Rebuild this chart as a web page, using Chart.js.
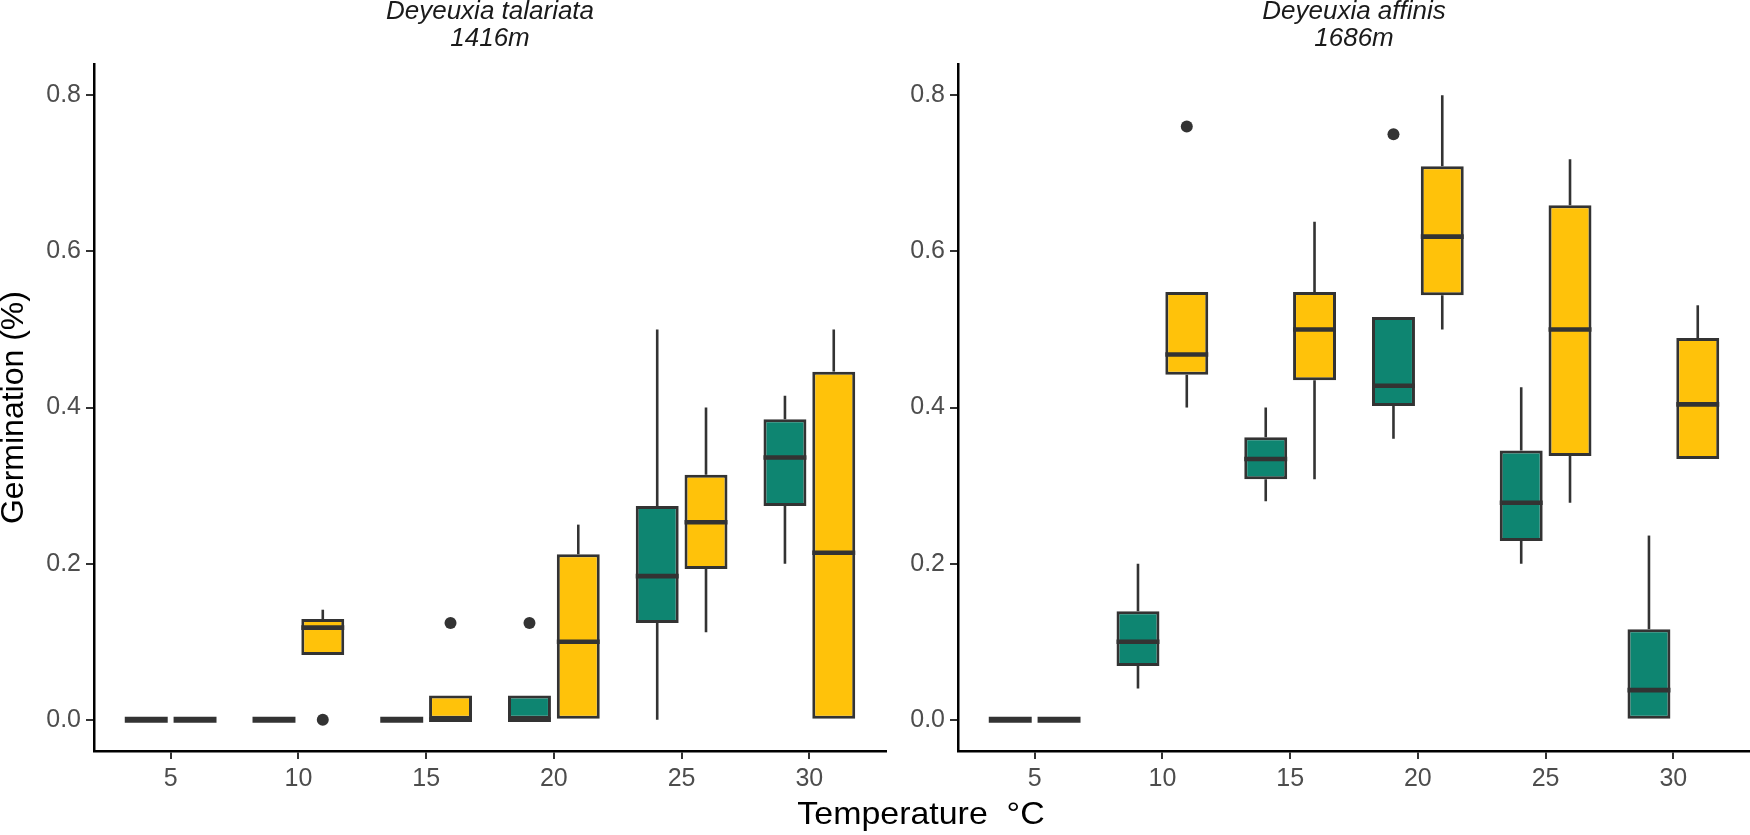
<!DOCTYPE html>
<html>
<head>
<meta charset="utf-8">
<script src="https://cdn.jsdelivr.net/npm/chart.js@4"></script>
<style>
  body { margin: 0; background: #fff; }
  #wrap { position: relative; width: 1750px; height: 835px; overflow: hidden; }
  #left { position: absolute; left: 0; top: 0; }
  #right { position: absolute; left: 900px; top: 0; }
  #xtitle {
    position: absolute; left: 921px; top: 797px; transform: translateX(-50%) scaleX(1.06);
    font: 32px/32px 'Liberation Sans', Arial, sans-serif; color: #000; white-space: pre;
  }
</style>
</head>
<body>
<div id="wrap">
  <canvas id="left" width="900" height="835"></canvas>
  <canvas id="right" width="850" height="835"></canvas>
  <div id="xtitle">Temperature  °C</div>
</div>
<script>
const temperatures = [5, 10, 15, 20, 25, 30]
const yTicks = [0, 0.2, 0.4, 0.6, 0.8]

// each row: [lower whisker, q1, median, q3, upper whisker]
const talariataGreen = [
  [0, 0, 0, 0, 0], [0, 0, 0, 0, 0], [0, 0, 0, 0, 0],
  [0, 0, 0, 0.031, 0.031], [0, 0.124, 0.184, 0.274, 0.5], [0.2, 0.274, 0.336, 0.385, 0.415]
]
const talariataYellow = [
  [0, 0, 0, 0, 0], [0.083, 0.083, 0.118, 0.129, 0.141], [0, 0, 0, 0.031, 0.031],
  [0, 0, 0.1, 0.212, 0.25], [0.112, 0.193, 0.253, 0.314, 0.4], [0, 0, 0.214, 0.446, 0.5]
]
const affinisGreen = [
  [0, 0, 0, 0, 0], [0.04, 0.069, 0.1, 0.139, 0.2], [0.28, 0.308, 0.334, 0.362, 0.4],
  [0.36, 0.402, 0.428, 0.516, 0.516], [0.2, 0.229, 0.278, 0.345, 0.426], [0, 0, 0.038, 0.116, 0.236]
]
const affinisYellow = [
  [0, 0, 0, 0, 0], [0.4, 0.442, 0.468, 0.548, 0.548], [0.308, 0.435, 0.5, 0.548, 0.638],
  [0.5, 0.544, 0.619, 0.709, 0.8], [0.278, 0.338, 0.5, 0.659, 0.718], [0.334, 0.334, 0.404, 0.489, 0.531]
]

// outliers: [temperature, value]
const talariataGreenOut = [[20, 0.124]]
const talariataYellowOut = [[10, 0], [15, 0.124]]
const affinisGreenOut = [[20, 0.75]]
const affinisYellowOut = [[10, 0.76]]

const GREEN = '#0E8571'
const YELLOW = '#FFC20A'
const INK = '#333333'
const FONT = "'Liberation Sans', Arial, sans-serif"

Chart.defaults.font.family = FONT

// whiskers, medians and outlier dots on top of the floating bars
const boxPlugin = {
  id: 'boxWhiskers',
  afterDatasetsDraw(chart) {
    const ctx = chart.ctx
    const y = chart.scales.y
    chart.data.datasets.forEach((ds, di) => {
      const meta = chart.getDatasetMeta(di)
      ctx.save()
      ctx.strokeStyle = INK
      ctx.fillStyle = INK
      meta.data.forEach((bar, i) => {
        const [lo, q1, med, q3, hi] = ds.stats[i]
        const half = bar.width / 2
        ctx.lineWidth = 2.6
        ctx.beginPath()
        ctx.moveTo(bar.x, y.getPixelForValue(q3))
        ctx.lineTo(bar.x, y.getPixelForValue(hi))
        ctx.moveTo(bar.x, y.getPixelForValue(q1))
        ctx.lineTo(bar.x, y.getPixelForValue(lo))
        ctx.stroke()
        ctx.lineWidth = q1 === q3 ? 6 : 4.6
        ctx.beginPath()
        ctx.moveTo(bar.x - half, y.getPixelForValue(med))
        ctx.lineTo(bar.x + half, y.getPixelForValue(med))
        ctx.stroke()
      })
      ds.outliers.forEach(([t, v]) => {
        const bar = meta.data[temperatures.indexOf(t)]
        ctx.beginPath()
        ctx.arc(bar.x, y.getPixelForValue(v), 6, 0, Math.PI * 2)
        ctx.fill()
      })
      ctx.restore()
    })
  }
}

function boxSet(stats, outliers, color) {
  return {
    data: temperatures.map((t, i) => ({ x: t, y: [stats[i][1], stats[i][3]] })),
    stats: stats,
    outliers: outliers,
    backgroundColor: color,
    borderColor: INK,
    borderWidth: 3,
    borderSkipped: false,
    categoryPercentage: 0.764,
    barPercentage: 0.88
  }
}

function makePanel(id, title, green, greenOut, yellow, yellowOut, opts) {
  new Chart(document.getElementById(id), {
    type: 'bar',
    data: {
      datasets: [boxSet(green, greenOut, GREEN), boxSet(yellow, yellowOut, YELLOW)]
    },
    plugins: [boxPlugin],
    options: {
      responsive: false,
      animation: false,
      layout: { padding: { top: -2, right: opts.padRight, bottom: 0, left: 0 } },
      plugins: {
        legend: { display: false },
        tooltip: { enabled: false },
        title: {
          display: true,
          text: title,
          fullSize: false,
          color: '#1A1A1A',
          font: { size: 26, style: 'italic', weight: 'normal', lineHeight: 1.04 },
          padding: { top: 0, bottom: 12 }
        }
      },
      scales: {
        x: {
          type: 'linear',
          min: 2,
          max: 33,
          offset: false,
          afterFit: s => { s.height = 84 },
          ticks: {
            stepSize: 5, includeBounds: false, color: '#4D4D4D',
            font: { size: 25 }, padding: 5, maxRotation: 0
          },
          grid: { offset: false, drawOnChartArea: false, tickLength: 8, color: INK, lineWidth: 2 },
          border: { color: '#000', width: 2.5 }
        },
        y: {
          min: -0.04,
          max: 0.84,
          afterFit: s => { s.width = opts.yWidth },
          afterBuildTicks: s => { s.ticks = yTicks.map(v => ({ value: v })) },
          ticks: {
            color: '#4D4D4D', font: { size: 25 }, padding: 5,
            callback: v => v.toFixed(1)
          },
          grid: { drawOnChartArea: false, tickLength: 8, color: INK, lineWidth: 2 },
          border: { color: '#000', width: 2.5 },
          title: {
            display: opts.yTitle,
            text: 'Germination (%)',
            color: '#000',
            font: { size: 32, lineHeight: 0.9 },
            padding: 0
          }
        }
      }
    }
  })
}

makePanel('left', ['Deyeuxia talariata', '1416m'], talariataGreen, talariataGreenOut,
  talariataYellow, talariataYellowOut, { padRight: 14, yWidth: 94, yTitle: true })
makePanel('right', ['Deyeuxia affinis', '1686m'], affinisGreen, affinisGreenOut,
  affinisYellow, affinisYellowOut, { padRight: 0, yWidth: 58, yTitle: false })
</script>
</body>
</html>
